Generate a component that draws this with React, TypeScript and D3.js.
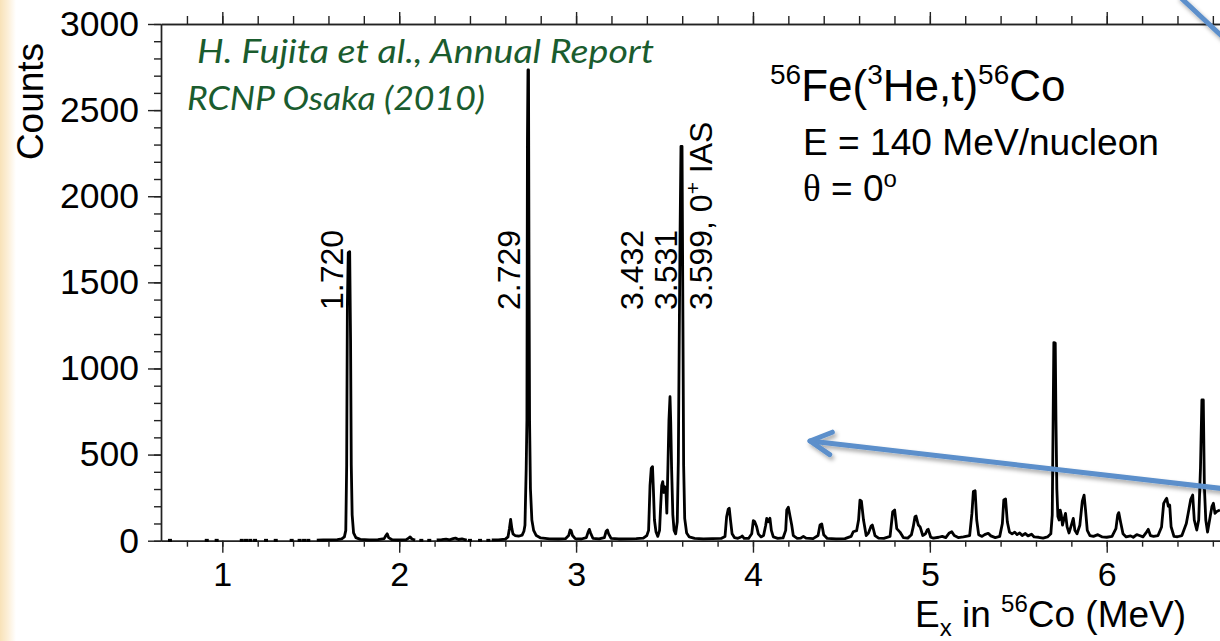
import React, { useEffect, useRef } from "react";
import * as d3 from "d3";

// 56Fe(3He,t)56Co excitation-energy spectrum at 0 degrees.

const yTickValues = [0, 500, 1000, 1500, 2000, 2500, 3000];
const yMinorTicks = d3.range(0, 31).map((i) => i * 100);
const xTickValues = [1, 2, 3, 4, 5, 6];
const xMinorTicks = d3.range(4, 34).map((i) => i / 5);

// Isolated single-count bins in the sparse region of the spectrum (MeV)
const sparseBins = [
  0.704, 0.912, 0.968, 1.11, 1.134, 1.158, 1.185, 1.247, 1.302, 1.392, 1.437,
  1.462, 1.486, 2.125, 2.17, 2.4, 2.457, 2.504,
];

// Continuous runs of the spectrum: [Ex (MeV), counts]
const runLow: [number, number][] = [
  [1.534, 3], [1.57, 4], [1.61, 5], [1.65, 6], [1.675, 10], [1.69, 22],
  [1.698, 60], [1.703, 440], [1.707, 1360], [1.712, 1672], [1.72, 1678],
  [1.725, 1165], [1.729, 440], [1.734, 150], [1.742, 45], [1.755, 18],
  [1.78, 8], [1.83, 5], [1.88, 6], [1.915, 12], [1.925, 30], [1.932, 40],
  [1.94, 18], [1.96, 6], [2.0, 4], [2.04, 6], [2.055, 16], [2.062, 22],
  [2.072, 10], [2.09, 3],
];

const runMid: [number, number][] = [
  [2.212, 4], [2.24, 6], [2.265, 9], [2.285, 5], [2.305, 12], [2.318, 15],
  [2.335, 7], [2.355, 10], [2.37, 6], [2.382, 3],
];

const runMain: [number, number][] = [
  [2.523, 4], [2.56, 5], [2.6, 9], [2.615, 22], [2.623, 70], [2.63, 124],
  [2.637, 70], [2.643, 40], [2.655, 30], [2.675, 26], [2.695, 32], [2.705, 55],
  [2.711, 90], [2.718, 420], [2.722, 700], [2.725, 2330], [2.728, 2733],
  [2.731, 2733], [2.734, 1540], [2.737, 700], [2.742, 300], [2.75, 120],
  [2.76, 60], [2.775, 30], [2.8, 16], [2.85, 11], [2.9, 10], [2.94, 12],
  [2.958, 30], [2.966, 62], [2.972, 58], [2.98, 30], [2.995, 12], [3.03, 10],
  [3.058, 18], [3.068, 50], [3.075, 66], [3.082, 45], [3.095, 14], [3.13, 11],
  [3.16, 18], [3.17, 55], [3.177, 62], [3.184, 40], [3.198, 13], [3.24, 10],
  [3.29, 11], [3.34, 12], [3.38, 15], [3.4, 30], [3.41, 60], [3.418, 320],
  [3.425, 420], [3.432, 430], [3.437, 300], [3.443, 120], [3.452, 50],
  [3.462, 25], [3.472, 60], [3.478, 200], [3.484, 320], [3.49, 343],
  [3.496, 280], [3.502, 313], [3.508, 290], [3.513, 160], [3.519, 420],
  [3.525, 700], [3.531, 836], [3.535, 690], [3.54, 420], [3.547, 150],
  [3.554, 60], [3.563, 40], [3.572, 110], [3.578, 460], [3.584, 1280],
  [3.588, 1794], [3.593, 2290], [3.599, 2290], [3.604, 1280], [3.608, 440],
  [3.614, 130], [3.625, 45], [3.64, 22], [3.67, 14], [3.72, 11], [3.77, 12],
  [3.82, 13], [3.842, 25], [3.851, 139], [3.86, 182], [3.866, 188],
  [3.873, 120], [3.882, 40], [3.895, 18], [3.915, 14], [3.932, 22], [3.94, 27],
  [3.95, 14], [3.975, 13], [3.993, 40], [4.002, 116], [4.01, 110], [4.021, 81],
  [4.03, 40], [4.045, 22], [4.06, 30], [4.072, 90], [4.078, 130], [4.087, 110],
  [4.096, 130], [4.104, 60], [4.115, 22], [4.14, 14], [4.17, 16], [4.185, 60],
  [4.191, 178], [4.2, 194], [4.208, 150], [4.219, 91], [4.228, 30], [4.25, 14],
  [4.27, 15], [4.285, 25], [4.3, 15], [4.34, 12], [4.368, 30], [4.379, 91],
  [4.389, 97], [4.4, 35], [4.42, 13], [4.47, 11], [4.52, 12], [4.555, 25],
  [4.567, 52], [4.586, 58], [4.597, 120], [4.605, 236], [4.613, 230],
  [4.625, 120], [4.64, 30], [4.653, 45], [4.668, 85], [4.675, 91], [4.69, 30],
  [4.71, 15], [4.74, 14], [4.775, 25], [4.784, 110], [4.79, 168], [4.801, 178],
  [4.813, 70], [4.831, 50], [4.85, 18], [4.875, 15], [4.896, 35], [4.906, 80],
  [4.916, 139], [4.922, 143], [4.935, 91], [4.945, 80], [4.96, 30], [4.975, 40],
  [4.985, 62], [4.991, 66], [5.005, 20], [5.02, 15], [5.05, 20], [5.07, 25],
  [5.09, 18], [5.11, 45], [5.124, 52], [5.138, 30], [5.16, 18], [5.19, 22],
  [5.225, 30], [5.238, 160], [5.246, 285], [5.256, 290], [5.265, 120],
  [5.276, 35], [5.295, 25], [5.31, 35], [5.33, 43], [5.345, 28], [5.37, 18],
  [5.395, 25], [5.41, 100], [5.418, 236], [5.428, 242], [5.438, 110],
  [5.45, 50], [5.465, 40], [5.48, 50], [5.493, 35], [5.508, 45], [5.522, 30],
  [5.54, 42], [5.555, 28], [5.575, 38], [5.59, 22], [5.615, 20], [5.64, 15],
  [5.665, 22], [5.684, 40], [5.692, 150], [5.697, 700], [5.701, 1150],
  [5.709, 1147], [5.713, 700], [5.718, 300], [5.724, 140], [5.731, 120],
  [5.737, 178], [5.743, 150], [5.75, 90], [5.757, 120], [5.767, 159],
  [5.776, 80], [5.787, 45], [5.8, 90], [5.811, 130], [5.82, 60], [5.832, 40],
  [5.848, 90], [5.862, 230], [5.872, 265], [5.88, 180], [5.89, 60], [5.905, 30],
  [5.925, 25], [5.95, 35], [5.975, 22], [6.0, 20], [6.03, 25], [6.052, 70],
  [6.062, 150], [6.068, 163], [6.078, 110], [6.092, 40], [6.11, 22],
  [6.135, 28], [6.15, 20], [6.17, 35], [6.185, 30], [6.205, 22], [6.222, 45],
  [6.235, 66], [6.247, 30], [6.265, 25], [6.29, 30], [6.31, 80], [6.322, 217],
  [6.332, 236], [6.339, 246], [6.348, 200], [6.356, 207], [6.364, 81],
  [6.38, 25], [6.4, 23], [6.425, 30], [6.45, 100], [6.464, 178], [6.475, 240],
  [6.486, 265], [6.495, 120], [6.509, 62], [6.52, 120], [6.53, 420],
  [6.538, 817], [6.546, 817], [6.552, 314], [6.56, 120], [6.57, 50],
  [6.585, 140], [6.595, 200], [6.603, 217], [6.612, 159], [6.622, 170],
  [6.64, 178],
];

const spectrumRuns = [runLow, runMid, runMain];

// Level energies marked above the strongest peaks
const levelEnergies = [1.72, 2.729, 3.432, 3.531, 3.599];
const levelTexts = ["1.720", "2.729", "3.432", "3.531", "3.599, 0"];

const SANS = "'Liberation Sans', Arial, Helvetica, sans-serif";
const W = 1220;
const H = 641;

export default function App() {
  const axisRef = useRef<SVGGElement>(null);

  const x = d3.scaleLinear().domain([0.6533, 6.6404]).range([161, 1220]);
  const y = d3.scaleLinear().domain([0, 3000]).range([540.7, 24]);

  useEffect(() => {
    const g = d3.select(axisRef.current);
    g.selectAll("*").remove();
    const none = () => "";

    g.append("g")
      .attr("transform", "translate(161,0)")
      .call(d3.axisLeft(y).tickValues(yMinorTicks).tickSizeInner(7).tickSizeOuter(0).tickFormat(none));
    g.append("g")
      .attr("class", "ylab")
      .attr("transform", "translate(161,0)")
      .call(
        d3.axisLeft(y).tickValues(yTickValues).tickSizeInner(13).tickSizeOuter(0)
          .tickPadding(9).tickFormat(d3.format("d"))
      );
    g.append("g")
      .attr("transform", `translate(0,${y(0)})`)
      .call(d3.axisBottom(x).tickValues(xMinorTicks).tickSizeInner(6).tickSizeOuter(0).tickFormat(none));
    g.append("g")
      .attr("class", "xlab")
      .attr("transform", `translate(0,${y(0)})`)
      .call(
        d3.axisBottom(x).tickValues(xTickValues).tickSizeInner(12).tickSizeOuter(0)
          .tickPadding(9).tickFormat(d3.format("d"))
      );
    g.append("g")
      .attr("transform", `translate(0,${y(3000)})`)
      .call(d3.axisTop(x).tickValues(xMinorTicks).tickSizeInner(8).tickSizeOuter(0).tickFormat(none));
    g.append("g")
      .attr("transform", `translate(0,${y(3000)})`)
      .call(d3.axisTop(x).tickValues(xTickValues).tickSizeInner(12).tickSizeOuter(0).tickFormat(none));

    g.selectAll("g").attr("font-family", SANS);
    g.selectAll("g.ylab").attr("font-size", 35.5);
    g.selectAll("g.xlab").attr("font-size", 34);
    g.selectAll("path.domain, line").attr("stroke", "#222").attr("stroke-width", 1.4);
    g.selectAll("text").attr("fill", "#000");
  }, []);

  const line = d3
    .line<[number, number]>()
    .x((d) => x(d[0]))
    .y((d) => y(d[1]));

  const labelDx = [-6.5, -8, -9, 6.7, 29.7];
  const arrowTip: [number, number] = [810, 441];
  const arrowTail: [number, number] = [1226, 489];
  const ang = Math.atan2(arrowTail[1] - arrowTip[1], arrowTail[0] - arrowTip[0]);
  const headLen = 24;
  const headA = 0.49;
  const head1 = [arrowTip[0] + headLen * Math.cos(ang - headA), arrowTip[1] + headLen * Math.sin(ang - headA)];
  const head2 = [arrowTip[0] + headLen * Math.cos(ang + headA), arrowTip[1] + headLen * Math.sin(ang + headA)];

  return (
    <svg
      width={W}
      height={H}
      viewBox={`0 0 ${W} ${H}`}
      style={{ position: "absolute", left: 0, top: 0, background: "#fff" }}
    >
      <defs>
        <linearGradient id="edge" x1="0" x2="1" y1="0" y2="0">
          <stop offset="0" stopColor="#f8e2b8" />
          <stop offset="0.5" stopColor="#fcefd8" />
          <stop offset="1" stopColor="#ffffff" />
        </linearGradient>
        <filter id="shadow" x="-10%" y="-50%" width="120%" height="200%">
          <feDropShadow dx="2" dy="3" stdDeviation="2" floodColor="#000" floodOpacity="0.35" />
        </filter>
      </defs>
      <rect x={0} y={0} width={W} height={H} fill="#fff" />
      <rect x={0} y={0} width={16} height={H} fill="url(#edge)" />

      <g ref={axisRef} />

      {/* spectrum */}
      <g fill="none" stroke="#000" strokeWidth={2.8} strokeLinejoin="round">
        {spectrumRuns.map((run, i) => (
          <path key={i} d={line(run) || ""} />
        ))}
      </g>
      <g fill="#000">
        {sparseBins.map((e, i) => (
          <rect key={i} x={x(e) - 2} y={y(2) - 1.5} width={4} height={3} />
        ))}
      </g>

      {/* axis titles */}
      <text
        transform="translate(43,101.5) rotate(-90)"
        textAnchor="middle"
        fontFamily={SANS}
        fontSize={37}
      >
        Counts
      </text>
      <text x={915} y={627} fontFamily={SANS} fontSize={37}>
        E<tspan fontSize={24} dy={9}>x</tspan>
        <tspan dy={-9}> in </tspan>
        <tspan fontSize={24} dy={-15}>56</tspan>
        <tspan dy={15}>Co (MeV)</tspan>
      </text>

      {/* level labels */}
      {levelEnergies.map((e, i) => (
        <text
          key={i}
          transform={`translate(${x(e) + labelDx[i]},310) rotate(-90)`}
          fontFamily={SANS}
          fontSize={32}
        >
          {levelTexts[i]}
          {i === levelEnergies.length - 1 && (
            <>
              <tspan fontSize={21} dy={-12}>+</tspan>
              <tspan dy={12}> IAS</tspan>
            </>
          )}
        </text>
      ))}

      {/* reaction info */}
      <text x={770} y={101} fontFamily={SANS} fontSize={44}>
        <tspan fontSize={28} dy={-17}>56</tspan>
        <tspan dy={17}>Fe(</tspan>
        <tspan fontSize={28} dy={-17}>3</tspan>
        <tspan dy={17}>He,t)</tspan>
        <tspan fontSize={28} dy={-17}>56</tspan>
        <tspan dy={17}>Co</tspan>
      </text>
      <text x={803} y={155} fontFamily={SANS} fontSize={36.5} textLength={356} lengthAdjust="spacingAndGlyphs">
        E = 140 MeV/nucleon
      </text>
      <text x={803} y={201} fontFamily={SANS} fontSize={37}>
        <tspan fontFamily="'Liberation Serif', 'Times New Roman', serif">θ</tspan>
        <tspan> = 0</tspan>
        <tspan fontSize={24} dy={-14}>o</tspan>
      </text>

      {/* reference note */}
      <g fill="#1a5c2e" fontFamily="Lato, 'Open Sans', sans-serif" fontStyle="italic" fontSize={33}>
        <text x={197} y={63} textLength={457} lengthAdjust="spacingAndGlyphs">
          H. Fujita et al., Annual Report
        </text>
        <text x={187} y={110} textLength={298} lengthAdjust="spacingAndGlyphs">
          RCNP Osaka (2010)
        </text>
      </g>

      {/* pointer arrows */}
      <g stroke="#5b8fcb" strokeWidth={5} strokeLinecap="round" fill="none" filter="url(#shadow)">
        <line x1={arrowTail[0]} y1={arrowTail[1]} x2={arrowTip[0]} y2={arrowTip[1]} />
        <polyline points={`${head1[0]},${head1[1]} ${arrowTip[0]},${arrowTip[1]} ${head2[0]},${head2[1]}`} strokeLinejoin="round" />
        <line x1={1180} y1={-3} x2={1226} y2={40} />
      </g>
    </svg>
  );
}
